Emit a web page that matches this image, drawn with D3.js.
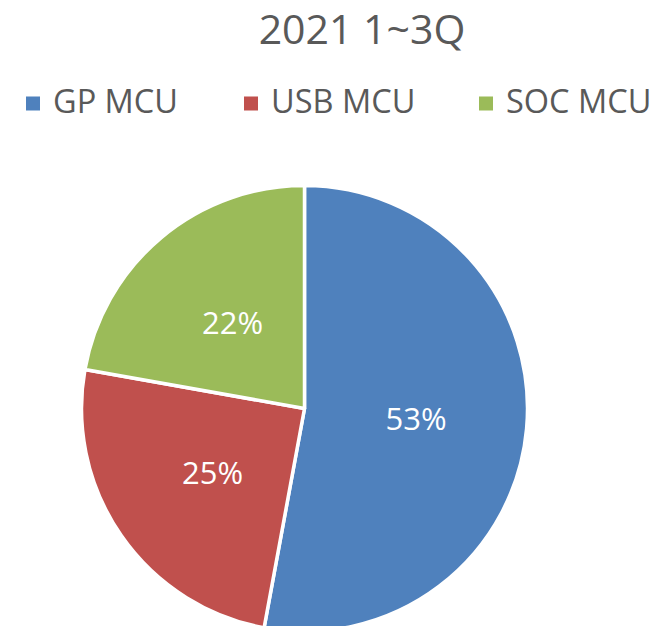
<!DOCTYPE html>
<html>
<head>
<meta charset="utf-8">
<script src="https://cdn.jsdelivr.net/npm/d3@7"></script>
<style>
  body { margin: 0; background: #fff; }
  text { font-family: "Open Sans", sans-serif; }
</style>
</head>
<body>
<svg id="pie"></svg>
<script>
const width = 657;
const height = 626;

// data
const categories = ['GP MCU', 'USB MCU', 'SOC MCU'];
const shares = [52.9, 24.9, 22.2];
const colors = ['#4F81BD', '#C0504D', '#9BBB59'];
const title = '2021 1~3Q';

const svg = d3.select('#pie')
  .attr('width', width)
  .attr('height', height);

// title
svg.append('text')
  .attr('x', 362)
  .attr('y', 44)
  .attr('text-anchor', 'middle')
  .attr('fill', '#595959')
  .style('font-size', '41px')
  .text(title);

// legend
const legendX = [26, 244, 479];
const items = svg.append('g')
  .attr('class', 'legend')
  .selectAll('g')
  .data(categories)
  .enter()
  .append('g')
  .attr('transform', (d, i) => `translate(${legendX[i]}, 0)`);
items.append('rect')
  .attr('width', 14)
  .attr('height', 14)
  .attr('y', 96.5)
  .attr('fill', (d, i) => colors[i]);
items.append('text')
  .attr('x', 27)
  .attr('y', 113)
  .attr('fill', '#595959')
  .style('font-size', '32.5px')
  .text(d => d);

// pie
const radius = 223;
const g = svg.append('g')
  .attr('transform', 'translate(304.5, 408.5)');

const pie = d3.pie().sort(null).value(d => d);
const arc = d3.arc().innerRadius(0).outerRadius(radius);
const labelArc = d3.arc().innerRadius(112).outerRadius(112);
const totalShare = d3.sum(shares);

const slices = g.selectAll('.arc')
  .data(pie(shares))
  .enter()
  .append('g')
  .attr('class', 'arc');

slices.append('path')
  .attr('d', arc)
  .attr('fill', (d, i) => colors[i])
  .attr('stroke', '#fff')
  .attr('stroke-width', 3.5)
  .attr('stroke-linejoin', 'round');

slices.append('text')
  .attr('transform', d => `translate(${labelArc.centroid(d)})`)
  .attr('dy', '0.38em')
  .attr('text-anchor', 'middle')
  .attr('fill', '#fff')
  .style('font-size', '31px')
  .text(d => `${Math.round(d.value / totalShare * 100)}%`);
</script>
</body>
</html>
